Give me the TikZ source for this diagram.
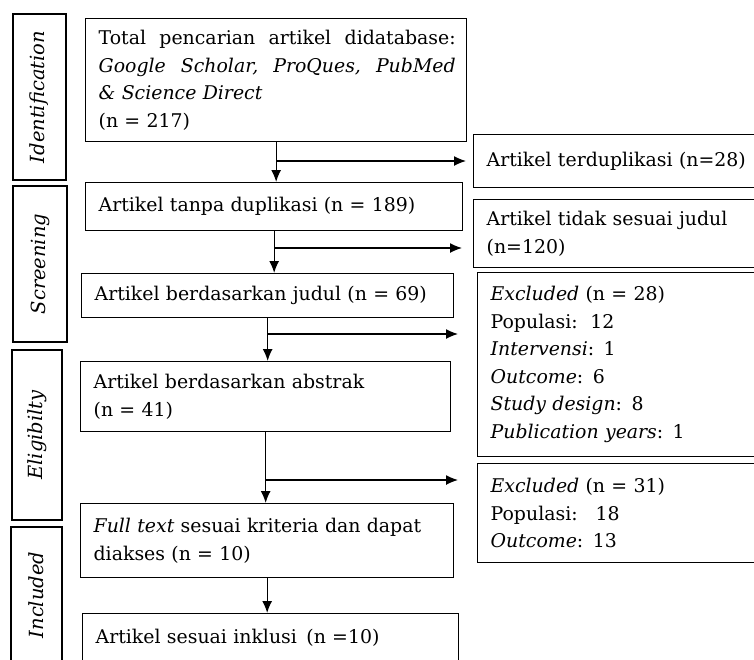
\documentclass[tikz,border=0pt]{standalone}
\usepackage{fontspec}
\setmainfont{DejaVu Serif}
\usetikzlibrary{positioning,calc,arrows.meta}

\begin{document}
\begin{tikzpicture}[x=1pt,y=-1pt]

		\tikzset{boxstyle/.style={draw, line width=1.3pt, anchor=north west, inner xsep=13pt, inner ysep=0pt, align=left, font=\fontsize{18.9}{27.5}\selectfont}}
		\tikzset{phasestyle/.style={draw, line width=1.5pt, rotate=90, inner sep=0pt, font=\fontsize{19.5}{22}\selectfont\itshape}}
		\tikzset{arrowstyle/.style={-{Latex[length=12pt,width=10pt]}, line width=1.3pt}}

		\newcommand\flowBox[6] % {name}{x}{y}{width}{height}{text}
		{
			\pgfmathsetmacro\textW{#4-26}
			\node[boxstyle, text width=\textW pt, minimum width=#4pt, minimum height=#5pt] (#1) at (#2,#3) {#6};
		}

		\newcommand\phaseBox[6] % {name}{x}{y}{width}{height}{text}
		{
			\node[phasestyle, minimum width=#5pt, minimum height=#4pt] (#1) at (#2+#4/2,#3+#5/2) {#6};
		}

		\newcommand\fullLine[1]{\makebox[357pt][l]{#1}}

		\useasboundingbox (0,0) rectangle (754,659);
		\clip (0,0) rectangle (754,659);

		% phases
		\phaseBox{identification}{13}{14}{53}{166}{Identification}
		\phaseBox{screening}{13}{186}{54}{156}{Screening}
		\phaseBox{eligibility}{12}{350}{50}{170}{Eligibilty}
		\phaseBox{included}{11}{527}{51}{136}{Included}

		% main flow
		\flowBox{total}{85}{18}{381}{123}{\fullLine{Total\hfill pencarian\hfill artikel\hfill didatabase:}\\
			\fullLine{\itshape Google\hfill Scholar,\hfill ProQues,\hfill PubMed}\\
			\textit{\& Science Direct}\\
			(n = 217)}
		\flowBox{nodup}{85}{182}{377}{48}{Artikel tanpa duplikasi (n = 189)}
		\flowBox{title}{81}{273}{372}{44}{\mbox{Artikel berdasarkan judul (n = 69)}}
		\flowBox{abstract}{80}{361}{370}{70}{Artikel berdasarkan abstrak\\(n = 41)}
		\flowBox{fulltext}{80}{503}{373}{74}{\textit{Full text} sesuai kriteria dan dapat\\diakses (n = 10)}
		\flowBox{inclusion}{82}{613}{376}{48}{Artikel sesuai inklusi\, (n =10)}

		% removed records
		\flowBox{dup}{473}{134}{300}{53}{Artikel terduplikasi (n=28)}
		\flowBox{offtitle}{473}{199}{300}{68}{Artikel tidak sesuai judul\\(n=120)}
		\flowBox{exclA}{477}{272}{300}{184}{\textit{Excluded} (n = 28)\\Populasi:\, 12\\\textit{Intervensi}: 1\\\textit{Outcome}: 6\\\textit{Study design}: 8\\\textit{Publication years}: 1}
		\flowBox{exclB}{477}{463}{300}{99}{\textit{Excluded} (n = 31)\\Populasi:\;\, 18\\\textit{Outcome}: 13}

		\coordinate (j1) at (total.south |- 0,161);
		\coordinate (j2) at (nodup.south |- 0,248);
		\coordinate (j3) at (title.south |- 0,334);
		\coordinate (j4) at (abstract.south |- 0,480);
		\coordinate (e1) at (466,161);
		\coordinate (e2) at (462,248);
		\coordinate (e3) at (458,334);
		\coordinate (e4) at (458,480);

		\draw[arrowstyle] (total.south) -- (total.south |- nodup.north);
		\draw[arrowstyle] (nodup.south) -- (nodup.south |- title.north);
		\draw[arrowstyle] (title.south) -- (title.south |- abstract.north);
		\draw[arrowstyle] (abstract.south) -- (abstract.south |- fulltext.north);
		\draw[arrowstyle] (fulltext.south) -- (fulltext.south |- inclusion.north);

		\draw[arrowstyle] (j1) -- (e1);
		\draw[arrowstyle] (j2) -- (e2);
		\draw[arrowstyle] (j3) -- (e3);
		\draw[arrowstyle] (j4) -- (e4);

\end{tikzpicture}
\end{document}
